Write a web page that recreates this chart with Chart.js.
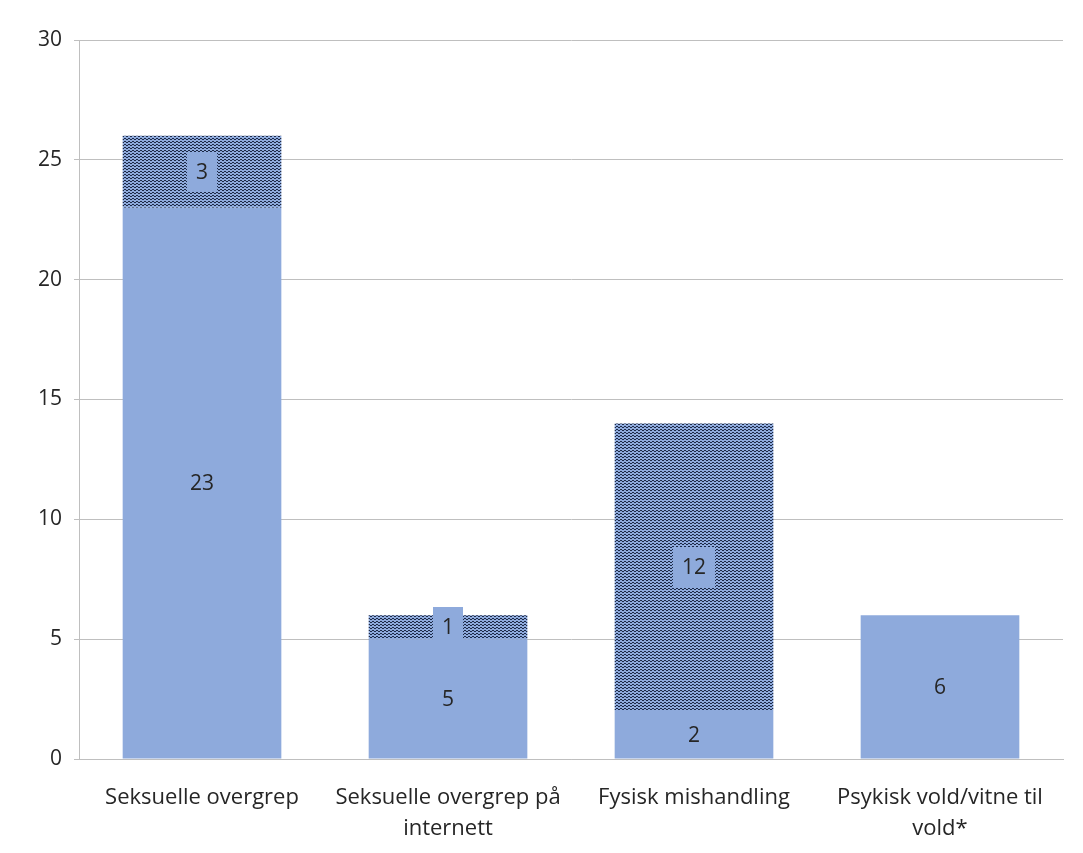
<!DOCTYPE html>
<html>
<head>
<meta charset="utf-8">
<script src="https://cdn.jsdelivr.net/npm/chart.js@4/dist/chart.umd.min.js"></script>
<style>
  html, body { margin: 0; padding: 0; background: #fff; }
  canvas { display: block; }
</style>
</head>
<body>
<canvas id="chart" width="1083" height="853"></canvas>
<script>
const categories = [
  "Seksuelle overgrep",
  ["Seksuelle overgrep på", "internett"],
  "Fysisk mishandling",
  ["Psykisk vold/vitne til", "vold*"]
];
const solidValues = [23, 5, 2, 6];
const patternValues = [3, 1, 12, 0];
const yTicks = { min: 0, max: 30, step: 5 };

const barBlue = "#8eaadc";
const textColor = "#262626";
const fontFamily = "'Open Sans', 'Noto Sans', sans-serif";

// dotted fill for the second series
function makePattern() {
  const c = document.createElement("canvas");
  c.width = 4; c.height = 3;
  const g = c.getContext("2d");
  g.fillStyle = barBlue;
  g.fillRect(0, 0, 4, 3);
  g.fillStyle = "#1d2a48";
  g.fillRect(0, 0, 2, 1);
  g.fillRect(2, 1, 2, 1);
  return g.createPattern(c, "repeat");
}

// value labels drawn in the middle of each segment, on a plain blue box
const segmentLabels = {
  id: "segmentLabels",
  afterDatasetsDraw(chart) {
    const ctx = chart.ctx;
    ctx.save();
    ctx.font = "21px " + fontFamily;
    ctx.textAlign = "center";
    ctx.textBaseline = "middle";
    chart.data.datasets.forEach((ds, di) => {
      const meta = chart.getDatasetMeta(di);
      meta.data.forEach((bar, i) => {
        const v = ds.data[i];
        if (!v) return;
        const cy = (bar.y + bar.base) / 2;
        const txt = String(v);
        const w = ctx.measureText(txt).width + 18;
        const h = 40;
        ctx.fillStyle = barBlue;
        ctx.fillRect(Math.round(bar.x - w / 2), Math.round(cy - h / 2), Math.round(w), h);
        ctx.fillStyle = textColor;
        ctx.fillText(txt, bar.x, cy + 1);
      });
    });
    ctx.restore();
  }
};

new Chart(document.getElementById("chart"), {
  type: "bar",
  data: {
    labels: categories,
    datasets: [
      { data: solidValues, backgroundColor: barBlue, borderWidth: 0 },
      { data: patternValues, backgroundColor: makePattern(), borderWidth: 0 }
    ]
  },
  options: {
    responsive: false,
    animation: false,
    events: [],
    layout: { padding: { top: 40, right: 20, left: 26, bottom: 0 } },
    datasets: { bar: { categoryPercentage: 0.645, barPercentage: 1 } },
    plugins: {
      legend: { display: false },
      tooltip: { enabled: false }
    },
    scales: {
      x: {
        stacked: true,
        grid: { display: false },
        border: { color: "#bfbfbf", width: 1 },
        ticks: { color: textColor, font: { size: 22, family: fontFamily, lineHeight: 1.38 }, padding: 16, maxRotation: 0 },
        afterFit(scale) { scale.height = 94; }
      },
      y: {
        stacked: true,
        min: yTicks.min,
        max: yTicks.max,
        grid: { color: "#bfbfbf", lineWidth: 1, tickLength: 5 },
        border: { color: "#bfbfbf", width: 1 },
        ticks: { stepSize: yTicks.step, color: textColor, font: { size: 21, family: fontFamily }, padding: 12 }
      }
    }
  },
  plugins: [segmentLabels]
});
</script>
</body>
</html>
